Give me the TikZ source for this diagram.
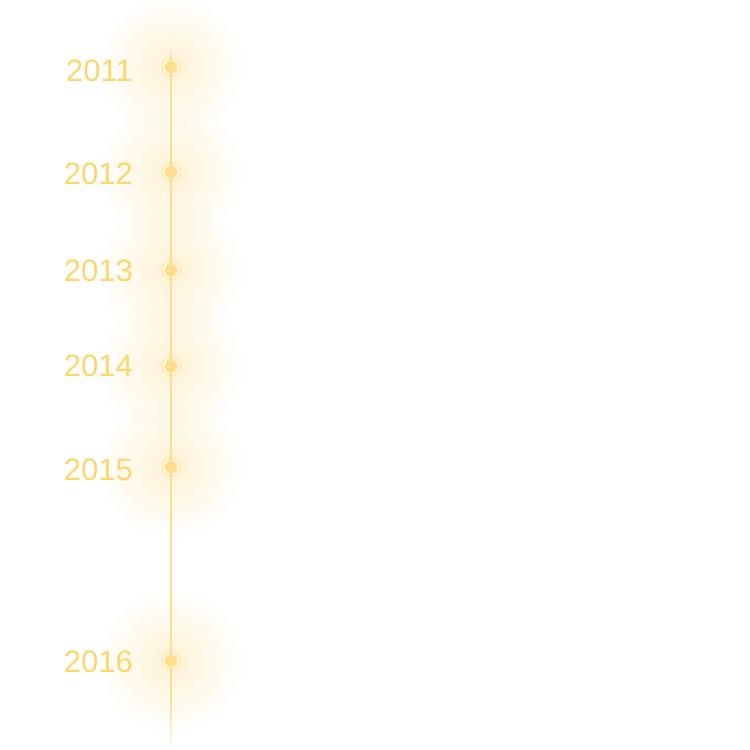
\documentclass[tikz,border=0pt]{standalone}
\usepackage{fontspec}
\setmainfont{Liberation Sans}
\usetikzlibrary{fadings}
\definecolor{gold}{RGB}{253,214,110}
\definecolor{goldline}{RGB}{253,222,140}
\tikzfading[name=glowfade, inner color=transparent!70, middle color=transparent!93, outer color=transparent!100]
\tikzfading[name=stripfade, left color=transparent!100, middle color=transparent!95, right color=transparent!100]
\tikzset{
  yearlabel/.style={anchor=east, text=gold, font=\fontsize{31}{34}\selectfont, inner sep=0pt},
  glow/.style={fill=gold, path fading=glowfade},
  dotcore/.style={circle, fill=gold!80!white, minimum size=12pt, inner sep=0pt},
  dotring/.style={circle, draw=gold, draw opacity=0.4, line width=1pt, minimum size=19pt, inner sep=0pt}
}
\begin{document}
\begin{tikzpicture}[x=1pt,y=-1pt]
\useasboundingbox (0,0) rectangle (750,750);
\fill[white] (0,0) rectangle (750,750);
% vertical haze strip
\fill[gold, path fading=stripfade] (100,10) rectangle (242,750);
% glows
\foreach \yy in {67,172,270,366,467,661}{
  \fill[glow] (171,\yy) circle (72);
}
% line
\coordinate (top) at (171,50);
\coordinate (bot) at (171,750);
\draw[goldline, line width=1.3pt] (171,60) -- (171,700);
\draw[goldline, line width=1.3pt, path fading=south] (171,700) -- (bot);
\draw[goldline, line width=1.3pt, path fading=north] (top) -- (171,60);
% dots and labels
\foreach \yy/\ly/\yr [count=\i] in {67/71/2011,172/174/2012,270/271/2013,366/366/2014,467/470/2015,661/662/2016}{
  \node[dotring] (r\i) at (171,\yy) {};
  \node[dotcore] (d\i) at (171,\yy) {};
  \node[yearlabel] (l\i) at (133,\ly) {\yr};
}
\end{tikzpicture}
\end{document}
